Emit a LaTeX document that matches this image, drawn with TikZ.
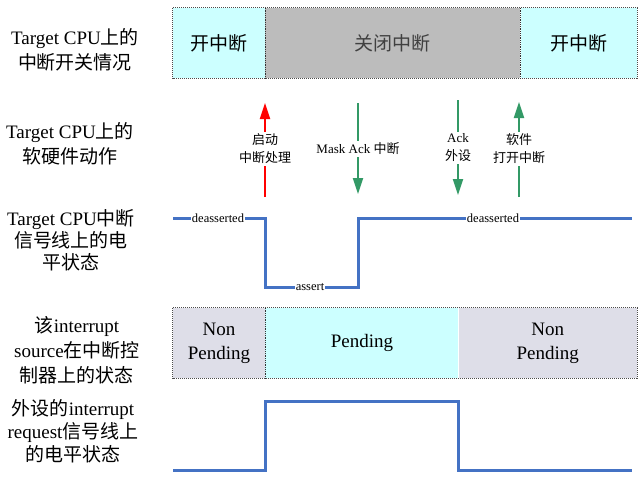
\documentclass[tikz,border=0pt]{standalone}
\usepackage{fontspec}
\setmainfont{Liberation Serif}
\newfontfamily\cjk{Noto Sans CJK SC}
\usetikzlibrary{
	arrows.meta,
	positioning
}
\definecolor{CellCyan}{RGB}{204,255,255}
\definecolor{CellGray}{RGB}{188,188,188}
\definecolor{CellPale}{RGB}{222,222,232}
\definecolor{SigBlue}{RGB}{68,114,196}
\definecolor{ActGreen}{RGB}{51,153,102}
\newcommand{\zh}[1]{{\cjk #1}}

\begin{document}
\begin{tikzpicture}[x=1pt, y=-1pt,
		rowlabel/.style={align=center, font=\fontsize{19}{25}\selectfont},
		cell/.style={minimum height=70pt, inner sep=0pt, align=center, font=\fontsize{19}{24}\selectfont},
		act/.style={line width=2pt, -{Triangle[width=10pt,length=16pt]}},
		actlabel/.style={fill=white, align=center, inner sep=2pt, font=\fontsize{13}{18}\selectfont},
		sig/.style={SigBlue, line width=3pt},
		siglabel/.style={fill=white, inner sep=1pt, font=\fontsize{12.5}{14}\selectfont},
		frame/.style={draw=black!70, densely dotted, line width=1pt},
		divider/.style={black!80, densely dotted, line width=0.8pt}]
		
		\useasboundingbox (0,0) rectangle (641,479);
		
		% row labels
		\node[rowlabel] (q1) at (75,50) {Target CPU\zh{上的}\\\zh{中断开关情况}};
		\node[rowlabel] (q2) at (70,144) {Target CPU\zh{上的}\\\zh{软硬件动作}};
		\node[rowlabel, font=\fontsize{19}{22}\selectfont] (q3) at (71,240) {Target CPU\zh{中断}\\\zh{信号线上的电}\\\zh{平状态}};
		\node[rowlabel] (q4) at (77,350) {\zh{该}interrupt\\source\zh{在中断控}\\\zh{制器上的状态}};
		\node[rowlabel, font=\fontsize{19}{23}\selectfont] (q5) at (73,431) {\zh{外设的}interrupt\\request\zh{信号线上}\\\zh{的电平状态}};
		
		% interrupt on/off
		\node[cell, fill=CellCyan, minimum width=92pt] (on1) at (219,43) {\zh{开中断}};
		\node[cell, fill=CellGray, text=black!75, minimum width=255pt, right=0pt of on1] (off) {\zh{关闭中断}};
		\node[cell, fill=CellCyan, minimum width=116pt, right=0pt of off] (on2) {\zh{开中断}};
		\draw[frame] (on1.north west) rectangle (on2.south east);
		\draw[divider] (on1.north east) -- (on1.south east);
		\draw[divider] (off.north east) -- (off.south east);
		
		% actions
		\coordinate (r0) at (265,197);
		\coordinate (r1) at (265,103);
		\node[actlabel] (rl) at (265,149) {\zh{启动}\\\zh{中断处理}};
		\draw[act, red] (r0) -- (rl) -- (r1);
		
		\coordinate (m0) at (358,103);
		\coordinate (m1) at (358,194);
		\node[actlabel] (ml) at (358,149) {Mask Ack \zh{中断}};
		\draw[act, ActGreen] (m0) -- (ml) -- (m1);
		
		\coordinate (k0) at (458,100);
		\coordinate (k1) at (458,195);
		\node[actlabel] (kl) at (458,148) {Ack\\\zh{外设}};
		\draw[act, ActGreen] (k0) -- (kl) -- (k1);
		
		\coordinate (s0) at (519,197);
		\coordinate (s1) at (519,102);
		\node[actlabel] (sl) at (519,149) {\zh{软件}\\\zh{打开中断}};
		\draw[act, ActGreen] (s0) -- (sl) -- (s1);
		
		% CPU interrupt line
		\coordinate (c0) at (173,218);
		\node[siglabel] (da1) at (218,218) {deasserted};
		\coordinate (c1) at (265,218);
		\coordinate (c2) at (265,287);
		\node[siglabel] (as) at (310,287) {assert};
		\coordinate (c3) at (358,287);
		\coordinate (c4) at (358,218);
		\node[siglabel] (da2) at (493,218) {deasserted};
		\coordinate (c5) at (632,218);
		\draw[sig] (c0) -- (da1) -- (c1) -- (c2) -- (as) -- (c3) -- (c4) -- (da2) -- (c5);
		
		% pending state
		\node[cell, fill=CellPale, minimum width=92pt] (np1) at (219,343) {Non\\Pending};
		\node[cell, fill=CellCyan, minimum width=193pt, right=0pt of np1] (pend) {Pending};
		\node[cell, fill=CellPale, minimum width=178pt, right=0pt of pend] (np2) {Non\\Pending};
		\draw[frame] (np1.north west) rectangle (np2.south east);
		\draw[divider] (np1.north east) -- (np1.south east);
		
		% device request line
		\coordinate (e0) at (173,470);
		\coordinate (e1) at (265,470);
		\coordinate (e2) at (265,401);
		\coordinate (e3) at (458,401);
		\coordinate (e4) at (458,470);
		\coordinate (e5) at (632,470);
		\draw[sig] (e0) -- (e1) -- (e2) -- (e3) -- (e4) -- (e5);
	\end{tikzpicture}
\end{document}
